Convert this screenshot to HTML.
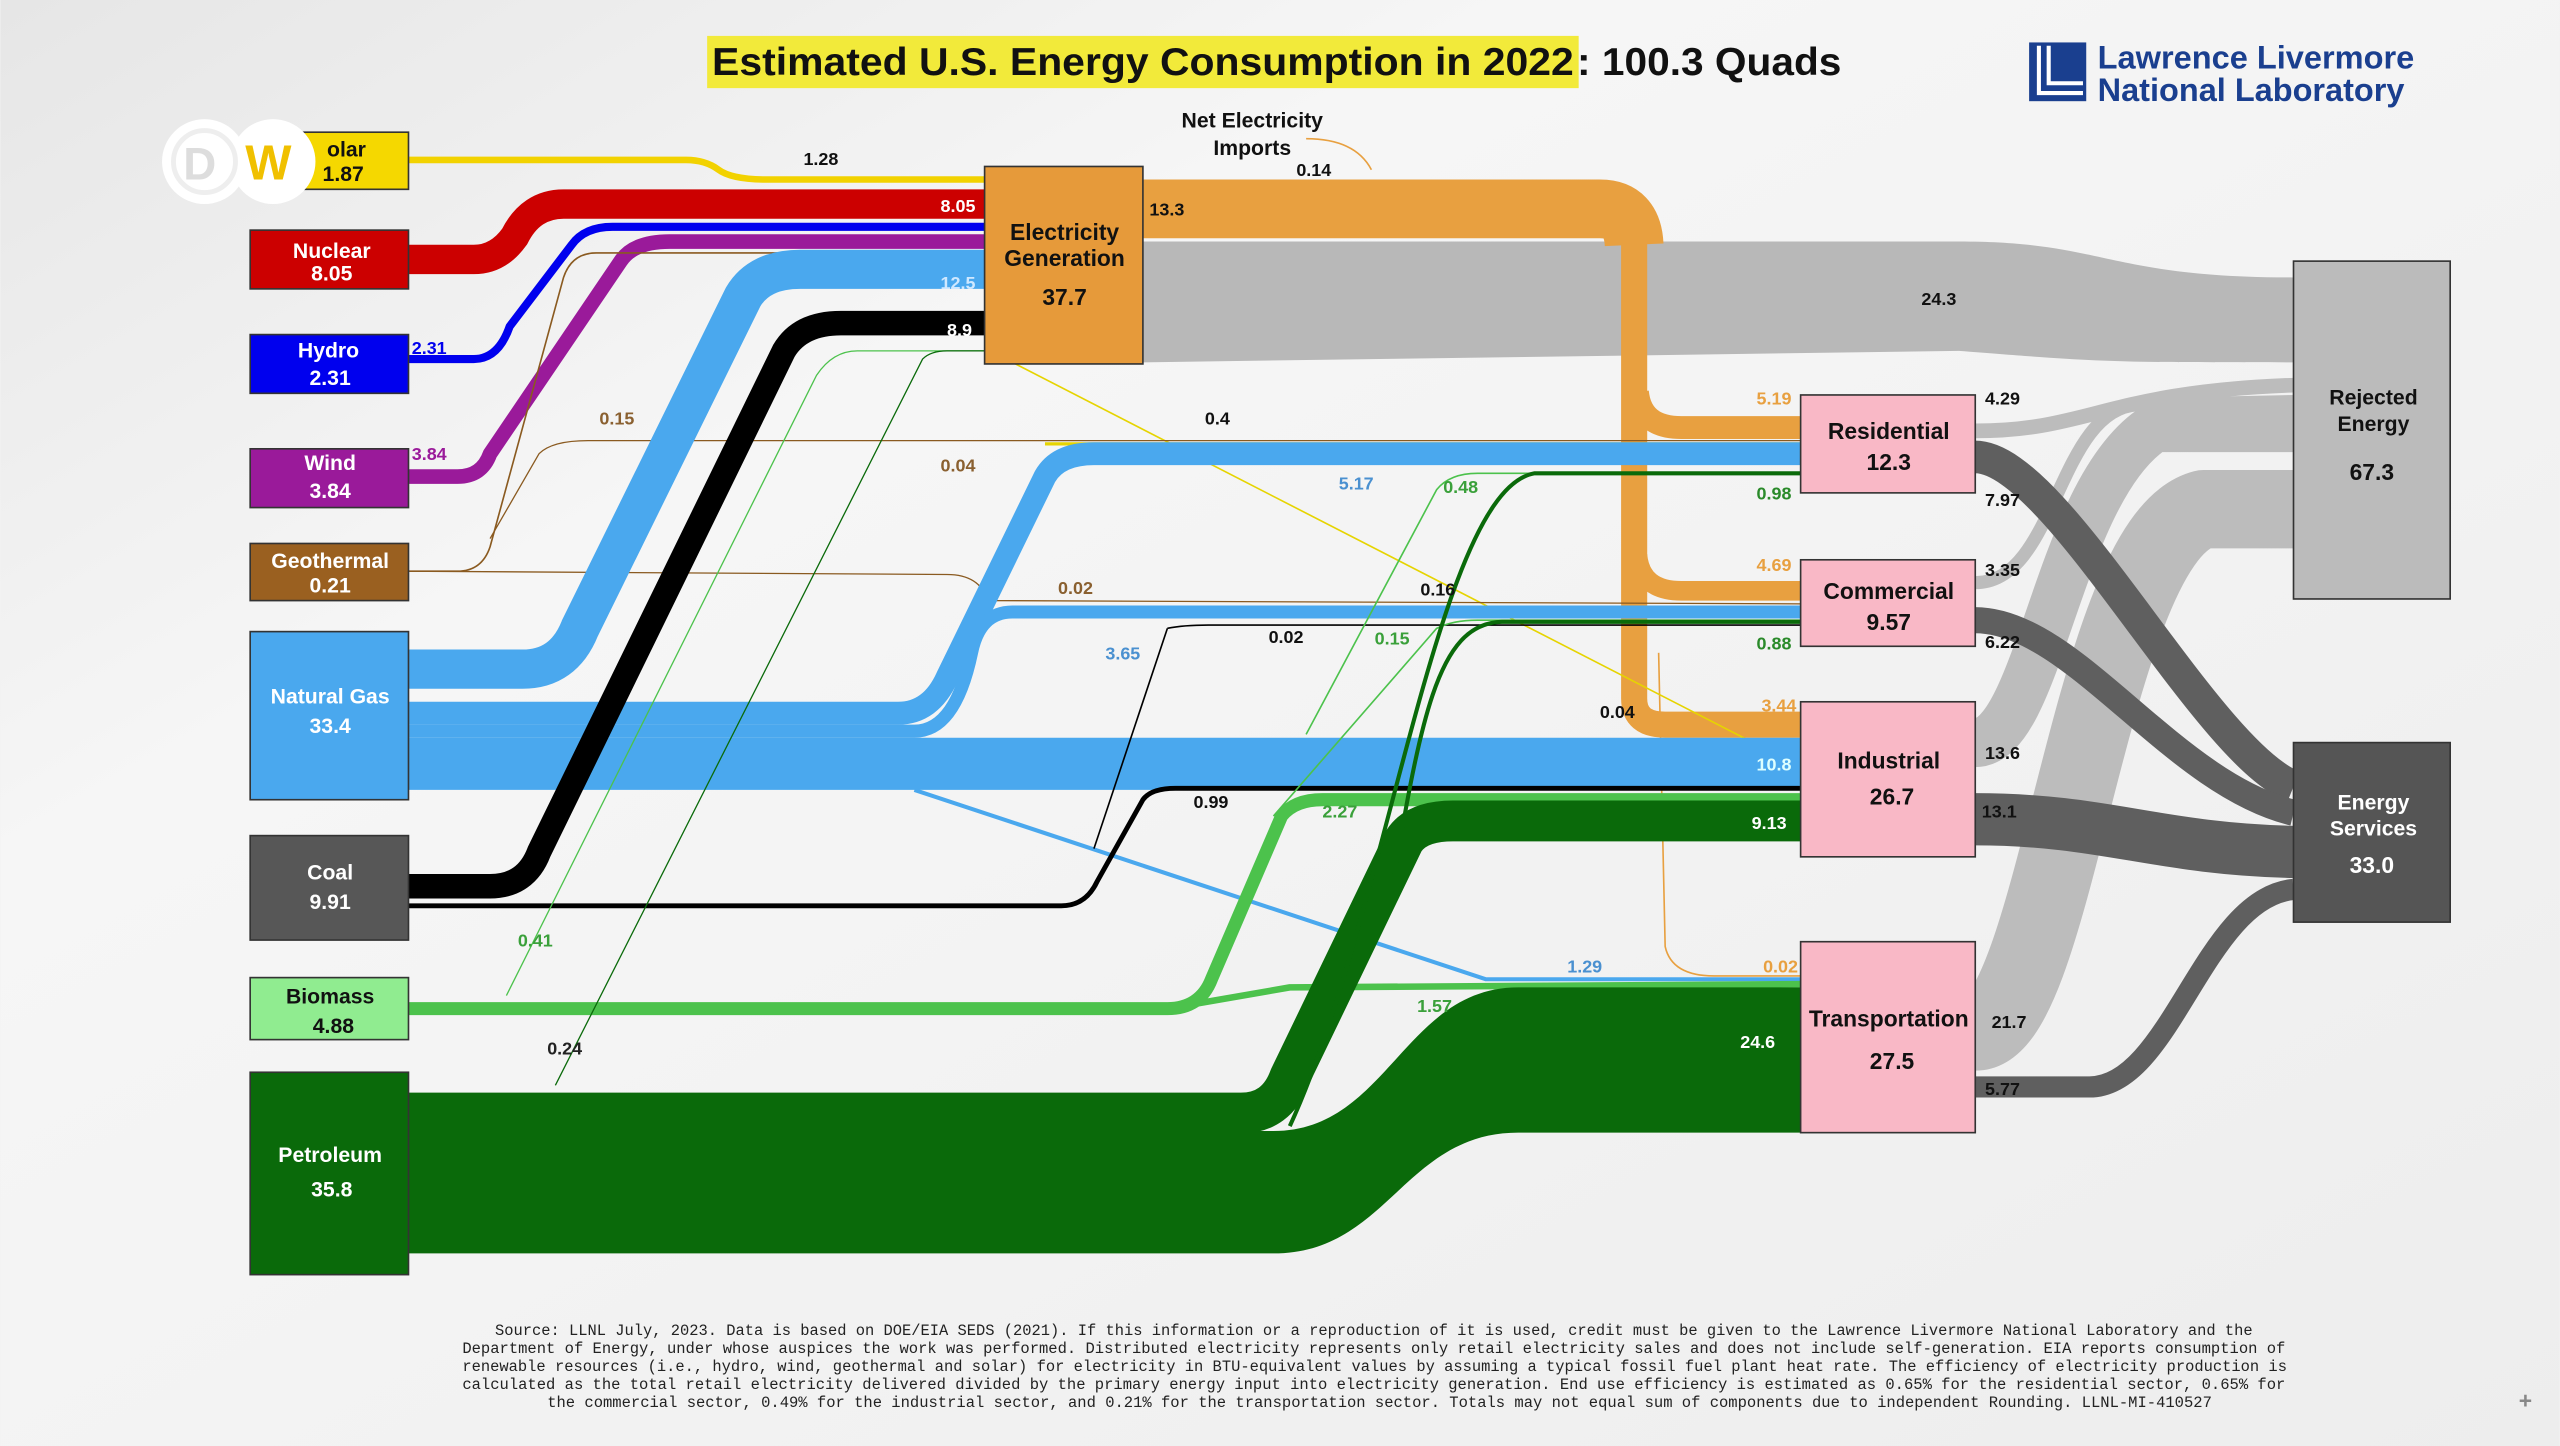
<!DOCTYPE html>
<html><head><meta charset="utf-8">
<style>
html,body{margin:0;padding:0;background:#f2f2f2;}
svg{display:block;}
text{font-family:"Liberation Sans",Arial,sans-serif;font-weight:bold;}
.m{font-family:"Liberation Mono",monospace;font-weight:normal;font-size:9.5px;fill:#222;}
</style></head><body>
<svg width="2560" height="1446" viewBox="0 0 1568 886" xmlns="http://www.w3.org/2000/svg">
<defs>
<linearGradient id="bg" x1="0" y1="0" x2="1" y2="1">
<stop offset="0" stop-color="#e6e6e6"/><stop offset="0.3" stop-color="#f6f6f6"/><stop offset="1" stop-color="#ededed"/>
</linearGradient>
</defs>
<rect width="1568" height="886" fill="url(#bg)"/>

<rect x="433" y="22" width="534" height="32" fill="#f2ea3a"/>
<text x="436" y="46" font-size="24" fill="#111" textLength="528" lengthAdjust="spacingAndGlyphs">Estimated U.S. Energy Consumption in 2022</text>
<text x="966" y="46" font-size="24" fill="#111" textLength="162" lengthAdjust="spacingAndGlyphs">: 100.3 Quads</text>

<rect x="1243" y="26" width="35" height="36" fill="#1a3f8f"/>
<path d="M1249 28 V57 H1276" stroke="#fff" stroke-width="2.5" fill="none"/>
<path d="M1255 28 V51 H1276" stroke="#fff" stroke-width="2.5" fill="none"/>
<text x="1285" y="42" font-size="20" fill="#1a3f8f" textLength="194" lengthAdjust="spacingAndGlyphs">Lawrence Livermore</text>
<text x="1285" y="62" font-size="20" fill="#1a3f8f" textLength="188" lengthAdjust="spacingAndGlyphs">National Laboratory</text>

<g fill="none" stroke-linejoin="round" stroke-linecap="butt">
<path d="M700 148 L1200 148 C1290 148 1290 170 1405 170 L1405 222 C1290 222 1290 222 1200 215 L700 222 Z" fill="#b8b8b8" stroke="none"/>
<path d="M1210 264 C1280 264 1290 240 1405 236" stroke="#bcbcbc" stroke-width="9"/>
<path d="M1210 357 C1260 357 1260 250 1310 248 L1405 246" stroke="#bcbcbc" stroke-width="8"/>
<path d="M1210 455 C1250 455 1260 300 1320 262 L1405 262" stroke="#bcbcbc" stroke-width="30"/>
<path d="M1210 632 C1260 632 1280 330 1350 312 L1405 312" stroke="#bcbcbc" stroke-width="48"/>
<path d="M1210 280 C1260 280 1350 460 1405 482" stroke="#5f5f5f" stroke-width="20"/>
<path d="M1210 380 C1270 380 1330 480 1405 498" stroke="#5f5f5f" stroke-width="16"/>
<path d="M1210 502 C1290 502 1320 520 1405 522" stroke="#5f5f5f" stroke-width="32"/>
<path d="M1210 666 L1280 666 C1330 666 1350 550 1405 545" stroke="#5f5f5f" stroke-width="13"/>

<path d="M700 128 L980 128 Q1000 128 1001 150" stroke="#e8a040" stroke-width="36"/>
<path d="M1001 140 L1001 428 Q1001 444 1020 444 L1103 444" stroke="#e8a040" stroke-width="16"/>
<path d="M1003 240 Q1005 262 1030 262 L1103 262" stroke="#e8a040" stroke-width="14"/>
<path d="M1003 340 Q1005 362 1030 362 L1103 362" stroke="#e8a040" stroke-width="12"/>
<path d="M1016 400 L1020 580 Q1024 598 1050 598 L1103 598" stroke="#e8a040" stroke-width="1"/>
<path d="M800 85 Q830 85 840 104" stroke="#e8a040" stroke-width="1"/>

<path d="M250 98 L420 98 Q432 98 440 104 Q448 110 470 110 L603 110" stroke="#f2d200" stroke-width="4"/>
<path d="M620 222 L1103 470" stroke="#e6d400" stroke-width="1"/>
<path d="M640 272 L1103 272" stroke="#e6d400" stroke-width="2"/>
<path d="M250 159 L290 159 Q305 159 315 145 Q325 125 345 125 L603 125" stroke="#cc0000" stroke-width="18"/>
<path d="M250 220 L290 220 Q305 220 312 200 L350 150 Q358 139 375 139 L603 139" stroke="#0000ee" stroke-width="5"/>
<path d="M250 292 L280 292 Q295 292 300 278 L380 160 Q388 148 410 148 L603 148" stroke="#9a1a9a" stroke-width="9"/>
<path d="M250 350 L280 350 Q295 350 300 335 L345 170 Q350 155 365 155 L603 155" stroke="#8a5a20" stroke-width="1"/>
<path d="M250 350 L580 352 Q600 352 605 368 L1103 370" stroke="#8a5a20" stroke-width="0.8"/>
<path d="M300 330 L330 278 Q338 270 360 270 L1103 270" stroke="#8a5a20" stroke-width="0.8"/>
<path d="M250 410 L320 410 Q345 410 355 385 L455 182 Q465 165 490 165 L603 165" stroke="#4aa8ee" stroke-width="24"/>
<path d="M250 437 L550 437 Q570 437 580 415 L640 292 Q648 278 670 278 L1103 278" stroke="#4aa8ee" stroke-width="14"/>
<path d="M250 448 L560 448 Q585 448 595 400 Q600 375 620 375 L1103 375" stroke="#4aa8ee" stroke-width="8"/>
<path d="M250 468 L1103 468" stroke="#4aa8ee" stroke-width="32"/>
<path d="M560 484 L910 600 L1103 600" stroke="#4aa8ee" stroke-width="2.5"/>
<path d="M250 543 L300 543 Q322 543 330 522 L480 215 Q490 198 515 198 L603 198" stroke="#000" stroke-width="15"/>
<path d="M250 555 L650 555 Q665 555 672 540 L700 490 Q705 483 720 483 L1103 483" stroke="#000" stroke-width="3"/>
<path d="M715 385 Q725 383 740 383 L1103 383" stroke="#000" stroke-width="1"/>
<path d="M715 385 L670 520" stroke="#000" stroke-width="1"/>
<path d="M250 618 L715 618 Q735 618 742 600 L785 500 Q793 490 810 490 L1103 490" stroke="#4cc24c" stroke-width="8"/>
<path d="M715 618 L790 605 L1103 603" stroke="#4cc24c" stroke-width="4"/>
<path d="M310 610 L500 230 Q510 215 525 215 L603 215" stroke="#4cc24c" stroke-width="0.8"/>
<path d="M800 450 L880 300 Q888 290 905 290 L1103 290" stroke="#4cc24c" stroke-width="1"/>
<path d="M780 500 L880 385 Q890 380 905 380 L1103 380" stroke="#4cc24c" stroke-width="1"/>
<path d="M250 693 L780 693 C850 693 860 605 930 605 L1103 605 L1103 694 L930 694 C860 694 850 768 780 768 L250 768 Z" fill="#0a6a0a" stroke="none"/>
<path d="M250 682 L760 682 Q782 682 790 660 L860 515 Q868 503 890 503 L1103 503" stroke="#0a6a0a" stroke-width="25"/>
<path d="M790 690 C850 560 880 300 940 290 L1103 290" stroke="#0a6a0a" stroke-width="2.5"/>
<path d="M850 560 C870 440 880 382 920 381 L1103 381" stroke="#0a6a0a" stroke-width="2.5"/>
<path d="M340 665 L565 220 Q570 215 580 215 L603 215" stroke="#0a6a0a" stroke-width="0.8"/>
</g>

<g stroke="#333" stroke-width="1">
<rect x="153" y="81" width="97" height="35" fill="#f5d800"/>
<rect x="153" y="141" width="97" height="36" fill="#cc0000"/>
<rect x="153" y="205" width="97" height="36" fill="#0000ee"/>
<rect x="153" y="275" width="97" height="36" fill="#9a1a9a"/>
<rect x="153" y="333" width="97" height="35" fill="#9a6020"/>
<rect x="153" y="387" width="97" height="103" fill="#4aa8ee"/>
<rect x="153" y="512" width="97" height="64" fill="#575757"/>
<rect x="153" y="599" width="97" height="38" fill="#90ec90"/>
<rect x="153" y="657" width="97" height="124" fill="#0a6a0a"/>
<rect x="603" y="102" width="97" height="121" fill="#e69a3a"/>
<rect x="1103" y="242" width="107" height="60" fill="#f9b8c6"/>
<rect x="1103" y="343" width="107" height="53" fill="#f9b8c6"/>
<rect x="1103" y="430" width="107" height="95" fill="#f9b8c6"/>
<rect x="1103" y="577" width="107" height="117" fill="#f9b8c6"/>
<rect x="1405" y="160" width="96" height="207" fill="#bbbbbb"/>
<rect x="1405" y="455" width="96" height="110" fill="#555"/>
</g>

<circle cx="125" cy="99" r="26" fill="#fff"/>
<circle cx="167" cy="99" r="26" fill="#fff"/>
<circle cx="125" cy="99" r="19" fill="none" stroke="#eee" stroke-width="3"/>
<text x="112" y="110" font-size="28" fill="#ddd">D</text>
<text x="150" y="110" font-size="30" fill="#f0c000">W</text>

<g text-anchor="middle" font-size="13">
<text x="212" y="96" fill="#111">olar</text><text x="210" y="111" fill="#111">1.87</text>
<text x="203" y="158" fill="#fff">Nuclear</text><text x="203" y="172" fill="#fff">8.05</text>
<text x="201" y="219" fill="#fff">Hydro</text><text x="202" y="236" fill="#fff">2.31</text>
<text x="202" y="288" fill="#fff">Wind</text><text x="202" y="305" fill="#fff">3.84</text>
<text x="202" y="348" fill="#fff">Geothermal</text><text x="202" y="363" fill="#fff">0.21</text>
<text x="202" y="431" fill="#fff">Natural Gas</text><text x="202" y="449" fill="#fff">33.4</text>
<text x="202" y="539" fill="#fff">Coal</text><text x="202" y="557" fill="#fff">9.91</text>
<text x="202" y="615" fill="#111">Biomass</text><text x="204" y="633" fill="#111">4.88</text>
<text x="202" y="712" fill="#fff">Petroleum</text><text x="203" y="733" fill="#fff">35.8</text>
<text x="652" y="147" fill="#111" font-size="14">Electricity</text>
<text x="652" y="163" fill="#111" font-size="14">Generation</text>
<text x="652" y="187" fill="#111" font-size="14">37.7</text>
<text x="1157" y="269" fill="#111" font-size="14">Residential</text><text x="1157" y="288" fill="#111" font-size="14">12.3</text>
<text x="1157" y="367" fill="#111" font-size="14">Commercial</text><text x="1157" y="386" fill="#111" font-size="14">9.57</text>
<text x="1157" y="471" fill="#111" font-size="14">Industrial</text><text x="1159" y="493" fill="#111" font-size="14">26.7</text>
<text x="1157" y="629" fill="#111" font-size="14">Transportation</text><text x="1159" y="655" fill="#111" font-size="14">27.5</text>
<text x="1454" y="248" fill="#111">Rejected</text><text x="1454" y="264" fill="#111">Energy</text><text x="1453" y="294" fill="#111" font-size="14">67.3</text>
<text x="1454" y="496" fill="#fff">Energy</text><text x="1454" y="512" fill="#fff">Services</text><text x="1453" y="535" fill="#fff" font-size="14">33.0</text>
<text x="767" y="78" fill="#111">Net Electricity</text><text x="767" y="95" fill="#111">Imports</text>
</g>

<g font-size="11">
<text x="492" y="101" fill="#111">1.28</text>
<text x="576" y="130" fill="#fff">8.05</text>
<text x="576" y="177" fill="#cfe8ff">12.5</text>
<text x="580" y="206" fill="#fff">8.9</text>
<text x="704" y="132" fill="#111">13.3</text>
<text x="794" y="108" fill="#111">0.14</text>
<text x="1177" y="187" fill="#111">24.3</text>
<text x="252" y="217" fill="#0000ee">2.31</text>
<text x="252" y="282" fill="#9a1a9a">3.84</text>
<text x="367" y="260" fill="#8a6030">0.15</text>
<text x="576" y="289" fill="#8a6030">0.04</text>
<text x="648" y="364" fill="#8a6030">0.02</text>
<text x="738" y="260" fill="#111">0.4</text>
<text x="820" y="300" fill="#4a90d0">5.17</text>
<text x="884" y="302" fill="#3aa03a">0.48</text>
<text x="870" y="365" fill="#111">0.16</text>
<text x="677" y="404" fill="#4a90d0">3.65</text>
<text x="777" y="394" fill="#111">0.02</text>
<text x="842" y="395" fill="#3aa03a">0.15</text>
<text x="980" y="440" fill="#111">0.04</text>
<text x="731" y="495" fill="#111">0.99</text>
<text x="810" y="501" fill="#3aa03a">2.27</text>
<text x="317" y="580" fill="#3aa03a">0.41</text>
<text x="335" y="646" fill="#222">0.24</text>
<text x="868" y="620" fill="#3aa03a">1.57</text>
<text x="960" y="596" fill="#4a90d0">1.29</text>
<text x="1066" y="642" fill="#fff">24.6</text>
<text x="1080" y="596" fill="#e8a040">0.02</text>
<text x="1076" y="248" fill="#e8a040">5.19</text>
<text x="1076" y="306" fill="#2a8a2a">0.98</text>
<text x="1076" y="350" fill="#e8a040">4.69</text>
<text x="1076" y="398" fill="#2a8a2a">0.88</text>
<text x="1079" y="436" fill="#e8a040">3.44</text>
<text x="1076" y="472" fill="#dff">10.8</text>
<text x="1073" y="508" fill="#fff">9.13</text>
<text x="1216" y="248" fill="#111">4.29</text>
<text x="1216" y="310" fill="#111">7.97</text>
<text x="1216" y="353" fill="#111">3.35</text>
<text x="1216" y="397" fill="#111">6.22</text>
<text x="1216" y="465" fill="#111">13.6</text>
<text x="1214" y="501" fill="#111">13.1</text>
<text x="1220" y="630" fill="#111">21.7</text>
<text x="1216" y="671" fill="#111">5.77</text>
</g>

<g>
<text class="m" x="303" y="818" textLength="1077" lengthAdjust="spacingAndGlyphs">Source: LLNL July, 2023. Data is based on DOE/EIA SEDS (2021). If this information or a reproduction of it is used, credit must be given to the Lawrence Livermore National Laboratory and the</text>
<text class="m" x="283" y="829" textLength="1117" lengthAdjust="spacingAndGlyphs">Department of Energy, under whose auspices the work was performed. Distributed electricity represents only retail electricity sales and does not include self-generation.  EIA reports consumption of</text>
<text class="m" x="283" y="840" textLength="1118" lengthAdjust="spacingAndGlyphs">renewable resources (i.e., hydro, wind, geothermal and solar) for electricity in BTU-equivalent values by assuming a typical fossil fuel plant heat rate.  The efficiency of electricity production is</text>
<text class="m" x="283" y="851" textLength="1117" lengthAdjust="spacingAndGlyphs">calculated as the total retail electricity delivered divided by the primary energy input into electricity generation.  End use efficiency is estimated as 0.65% for the residential sector, 0.65% for</text>
<text class="m" x="335" y="862" textLength="1020" lengthAdjust="spacingAndGlyphs">the commercial sector, 0.49% for the industrial sector, and 0.21% for the transportation sector.  Totals may not equal sum of components due to independent Rounding. LLNL-MI-410527</text>
</g>
<text x="1543" y="863" font-size="14" fill="#888" font-weight="normal">+</text>
</svg>
</body></html>
